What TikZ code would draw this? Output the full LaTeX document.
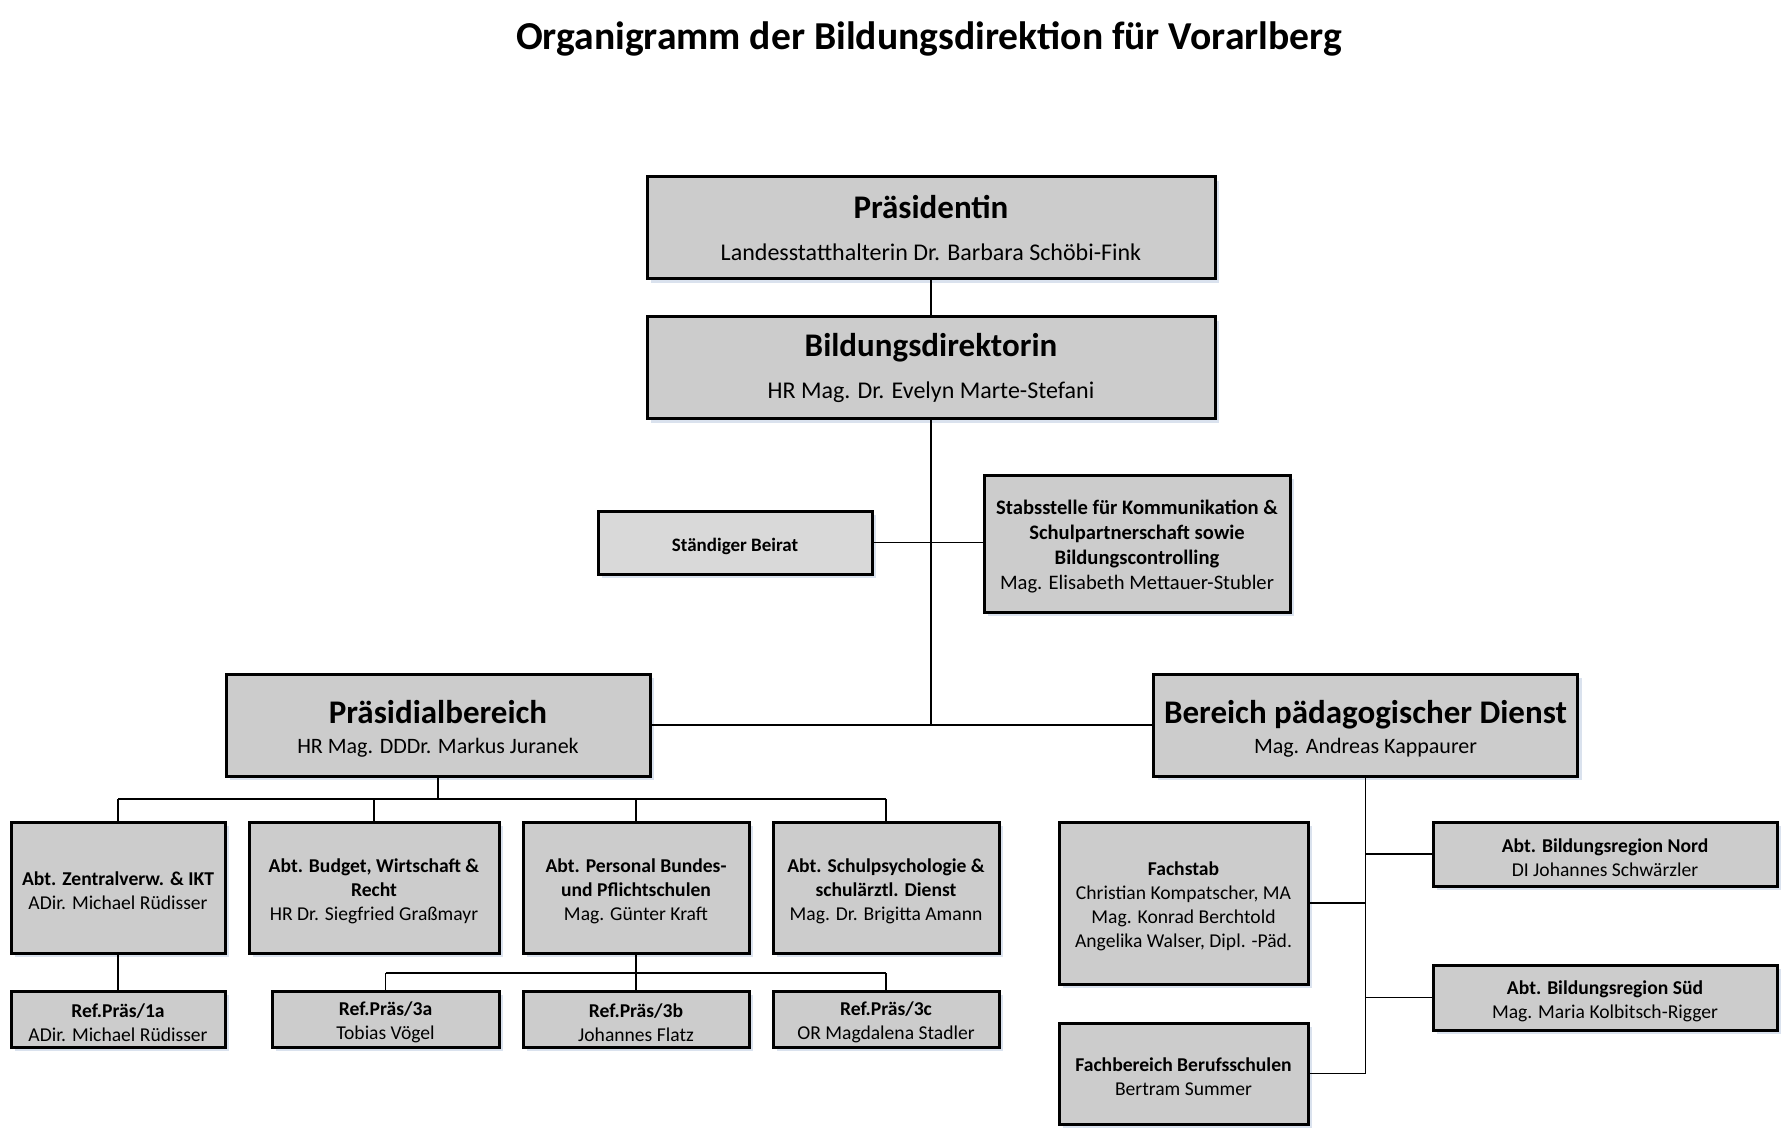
\documentclass[tikz,border=0pt]{standalone}
\usepackage{fontspec}
\setmainfont{Carlito}
\usepackage{tikz}
\usetikzlibrary{calc,shadows}
\definecolor{kasten}{HTML}{CCCCCC}
\definecolor{kastenhell}{HTML}{D9D9D9}
\definecolor{schatten}{HTML}{CBD7E8}
\tikzset{
  kasten/.style={draw=black,fill=kasten,line width=1.5pt,align=center,inner sep=0pt,
    drop shadow={shadow xshift=2pt,shadow yshift=-2pt,fill=schatten,opacity=0.7}},
  gross/.style={kasten,minimum width=284pt,minimum height=51pt,font=\fontsize{12}{21}\selectfont},
  bereich/.style={kasten,minimum width=212pt,minimum height=51pt,font=\fontsize{11}{15}\selectfont},
  klein/.style={kasten,font=\fontsize{9.8}{12}\selectfont},
  titel/.style={font=\fontsize{19.8}{23}\selectfont\bfseries},
  linie/.style={draw=black,line width=0.7pt},
}
\newcommand{\kopf}[1]{{\fontsize{16.5}{16.5}\selectfont\bfseries #1}}
\newcommand{\oben}{\rule{0pt}{10.2pt}}

\begin{document}
\begin{tikzpicture}[x=0.5pt,y=-0.5pt]
\path[fill=white,use as bounding box] (0,0) rectangle (1790,1139);
\node[titel] (titel) at (929,39) {Organigramm der Bildungsdirektion für Vorarlberg};
\node[gross] (praes) at (931,228) {\kopf{Präsidentin}\\Landesstatthalterin Dr. Barbara Schöbi-Fink};
\node[gross] (bildir) at (931,368) {\kopf{Bildungsdirektorin}\\HR Mag. Dr. Evelyn Marte-Stefani};
\node[klein,fill=kastenhell,minimum width=137pt,minimum height=31.5pt,font=\fontsize{9.5}{10}\selectfont\bfseries] (beirat) at (735,542.5) {\oben Ständiger Beirat};
\node[klein,minimum width=153pt,minimum height=68.5pt,font=\fontsize{10.3}{12.5}\selectfont] (stab) at (1137,543.5) {\oben\bfseries Stabsstelle für Kommunikation \&\\\bfseries Schulpartnerschaft sowie\\\bfseries Bildungscontrolling\\Mag. Elisabeth Mettauer-Stubler};
\node[bereich] (praesber) at (438,725) {\rule{0pt}{15pt}\kopf{Präsidialbereich}\\HR Mag. DDDr. Markus Juranek};
\node[bereich] (paed) at (1365.5,725) {\rule{0pt}{15pt}\kopf{Bereich pädagogischer Dienst}\\Mag. Andreas Kappaurer};
\node[klein,minimum width=107pt,minimum height=65.5pt] (abt1) at (118,887.5) {\oben\bfseries Abt. Zentralverw. \& IKT\\ADir. Michael Rüdisser};
\node[klein,minimum width=125pt,minimum height=65.5pt] (abt2) at (374,887.5) {\oben\bfseries Abt. Budget, Wirtschaft \&\\\bfseries Recht\\HR Dr. Siegfried Graßmayr};
\node[klein,minimum width=113pt,minimum height=65.5pt] (abt3) at (636,887.5) {\oben\bfseries Abt. Personal Bundes-\\\bfseries und Pflichtschulen\\Mag. Günter Kraft};
\node[klein,minimum width=113pt,minimum height=65.5pt] (abt4) at (886,887.5) {\oben\bfseries Abt. Schulpsychologie \&\\\bfseries schulärztl. Dienst\\Mag. Dr. Brigitta Amann};
\node[klein,minimum width=107pt,minimum height=28pt] (ref1a) at (118,1019) {\oben\bfseries Ref.Präs/1a\\ADir. Michael Rüdisser};
\node[klein,minimum width=113.5pt,minimum height=28pt] (ref3a) at (385.5,1019) {\oben\bfseries Ref.Präs/3a\\Tobias Vögel};
\node[klein,minimum width=113pt,minimum height=28pt] (ref3b) at (636,1019) {\oben\bfseries Ref.Präs/3b\\Johannes Flatz};
\node[klein,minimum width=113pt,minimum height=28pt] (ref3c) at (886,1019) {\oben\bfseries Ref.Präs/3c\\OR Magdalena Stadler};
\node[klein,minimum width=124.5pt,minimum height=81pt] (fachstab) at (1183.5,903) {\oben\bfseries Fachstab\\Christian Kompatscher, MA\\Mag. Konrad Berchtold\\Angelika Walser, Dipl. -Päd.};
\node[klein,minimum width=124.5pt,minimum height=50.5pt] (berufs) at (1183.5,1073.5) {\oben\bfseries Fachbereich Berufsschulen\\Bertram Summer};
\node[klein,minimum width=172pt,minimum height=32pt] (nord) at (1605,854) {\oben\bfseries Abt. Bildungsregion Nord\\DI Johannes Schwärzler};
\node[klein,minimum width=172pt,minimum height=32.5pt] (sued) at (1605,997.5) {\oben\bfseries Abt. Bildungsregion Süd\\Mag. Maria Kolbitsch-Rigger};
\coordinate (mitte) at (931,725);
\coordinate (busl) at (438,799);
\coordinate (busr) at (636,973);
\draw[linie] (praes) -- (bildir);
\draw[linie] (bildir) -- (mitte);
\draw[linie] (praesber) -- (paed);
\draw[linie] (beirat) -- (stab.west |- beirat.east);
\draw[linie] (praesber) -- (busl);
\draw[linie] (abt1.north |- busl) -- (abt4.north |- busl);
\foreach \n in {abt1,abt2,abt3,abt4}
  \draw[linie] (\n.north |- busl) -- (\n.north);
\draw[linie] (abt1) -- (ref1a);
\draw[linie] (abt3) -- (busr);
\draw[linie] (ref3a.north |- busr) -- (ref3c.north |- busr);
\foreach \n in {ref3a,ref3b,ref3c}
  \draw[linie] (\n.north |- busr) -- (\n.north);
\draw[linie] (paed) -- (paed.south |- berufs.east) -- (berufs);
\draw[linie] (fachstab) -- (fachstab.east -| paed.south);
\draw[linie] (nord) -- (nord.west -| paed.south);
\draw[linie] (sued) -- (sued.west -| paed.south);
\end{tikzpicture}
\end{document}
